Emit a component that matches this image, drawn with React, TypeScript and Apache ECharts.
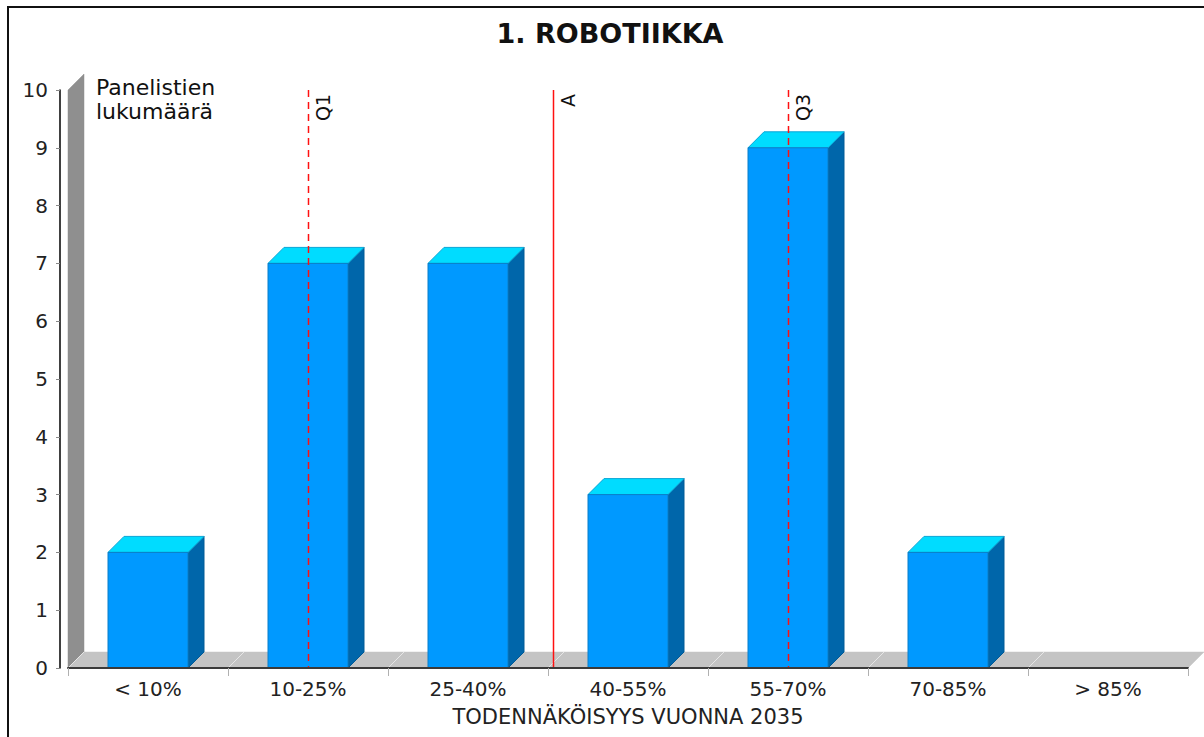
import React, { useEffect, useRef } from "react";
import * as echarts from "echarts";

const titleText = "1. ROBOTIIKKA";
const yAxisName = "Panelistien\nlukumäärä";
const xAxisName = "TODENNÄKÖISYYS VUONNA 2035";
const categories = ["< 10%", "10-25%", "25-40%", "40-55%", "55-70%", "70-85%", "> 85%"];
const counts = [2, 7, 7, 3, 9, 2, 0];
const yMin = 0;
const yMax = 10;
const yInterval = 1;
const markerNames = ["Q1", "A", "Q3"];
const markerPositions = [1, 2.53, 4]; // in category-index units
const markerDashed = [true, false, true];

const DEPTH = 16;
const FONT = "DejaVu Sans";

export default function App() {
  const ref = useRef<HTMLDivElement>(null);
  useEffect(() => {
    if (!ref.current) return;
    const chart = echarts.init(ref.current, null, { renderer: "svg" });
    const n = categories.length;
    const option: any = {
      animation: false,
      backgroundColor: "#ffffff",
      grid: { left: 68, right: 16, top: 90, bottom: 69 },
      xAxis: [
        {
          type: "category",
          data: categories,
          axisLine: { show: true, onZero: false, lineStyle: { color: "#3a3a3a", width: 2 } },
          axisTick: { show: true, length: 8, lineStyle: { color: "#b0b0b0" } },
          axisLabel: { fontSize: 20, color: "#222", margin: 11, fontFamily: FONT },
          splitLine: { show: false },
          name: xAxisName,
          nameLocation: "middle",
          nameGap: 38,
          nameTextStyle: { fontSize: 21, color: "#222", fontFamily: FONT, verticalAlign: "top" },
          z: 5,
        },
        {
          type: "value",
          min: -0.5,
          max: n - 0.5,
          show: false,
        },
      ],
      yAxis: {
        type: "value",
        min: yMin,
        max: yMax,
        interval: yInterval,
        offset: 8,
        axisLine: { show: true, onZero: false, lineStyle: { color: "#000", width: 1.5 } },
        axisTick: { show: true, length: 4, lineStyle: { color: "#888" } },
        axisLabel: { fontSize: 20, color: "#222", margin: 12, fontFamily: FONT },
        splitLine: { show: false },
      },
      graphic: [
        {
          type: "rect",
          shape: { x: 8, y: 7, width: 1300, height: 900 },
          style: { fill: "none", stroke: "#111", lineWidth: 2 },
          silent: true,
        },
        {
          type: "text",
          x: 610,
          y: 33,
          style: {
            text: titleText,
            font: `bold 27px ${FONT}`,
            fill: "#111",
            align: "center",
            verticalAlign: "middle",
          },
        },
        {
          type: "text",
          x: 96,
          y: 75,
          z: 10,
          style: {
            text: yAxisName,
            font: `22px ${FONT}`,
            lineHeight: 24,
            fill: "#111",
            align: "left",
            verticalAlign: "top",
          },
        },
      ],
      series: [
        {
          type: "custom",
          name: "frame",
          xAxisIndex: 1,
          z: 1,
          silent: true,
          data: [[0, 0]],
          renderItem: (params: any, api: any) => {
            const bl = api.coord([-0.5, yMin]);
            const br = api.coord([n - 0.5, yMin]);
            const tl = api.coord([-0.5, yMax]);
            const children: any[] = [
              {
                type: "polygon",
                shape: {
                  points: [
                    [bl[0], bl[1]],
                    [bl[0] + DEPTH, bl[1] - DEPTH],
                    [tl[0] + DEPTH, tl[1] - DEPTH],
                    [tl[0], tl[1]],
                  ],
                },
                style: { fill: "#8f8f8f", stroke: "#8f8f8f", lineWidth: 0.5 },
              },
              {
                type: "polygon",
                shape: {
                  points: [
                    [bl[0], bl[1]],
                    [br[0], br[1]],
                    [br[0] + DEPTH, br[1] - DEPTH],
                    [bl[0] + DEPTH, bl[1] - DEPTH],
                  ],
                },
                style: { fill: "#c4c4c4", stroke: "#c4c4c4", lineWidth: 0.5 },
              },
            ];
            for (let k = 0; k < n; k++) {
              const p = api.coord([k - 0.5, yMin]);
              children.push({
                type: "line",
                shape: { x1: p[0], y1: p[1], x2: p[0] + DEPTH, y2: p[1] - DEPTH },
                style: { stroke: "#e6e6e6", lineWidth: 1 },
              });
            }
            return { type: "group", children };
          },
        },
        {
          type: "custom",
          name: "Panelistien lukumäärä",
          xAxisIndex: 0,
          z: 2,
          data: counts.map((c, i) => [i, c]),
          renderItem: (params: any, api: any) => {
            const idx = api.value(0);
            const v = api.value(1);
            if (!(v > 0)) return null;
            const top = api.coord([idx, v]);
            const base = api.coord([idx, 0]);
            const w = api.size([1, 0])[0] * 0.5;
            const x0 = top[0] - w / 2;
            const x1 = top[0] + w / 2;
            const yt = top[1];
            const yb = base[1];
            return {
              type: "group",
              children: [
                {
                  type: "polygon",
                  shape: {
                    points: [
                      [x1, yb],
                      [x1 + DEPTH, yb - DEPTH],
                      [x1 + DEPTH, yt - DEPTH],
                      [x1, yt],
                    ],
                  },
                  style: { fill: "#0066aa", stroke: "#005a96", lineWidth: 1 },
                },
                {
                  type: "polygon",
                  shape: {
                    points: [
                      [x0, yt],
                      [x0 + DEPTH, yt - DEPTH],
                      [x1 + DEPTH, yt - DEPTH],
                      [x1, yt],
                    ],
                  },
                  style: { fill: "#00dcff", stroke: "#0aa6d6", lineWidth: 1 },
                },
                {
                  type: "rect",
                  shape: { x: x0, y: yt, width: w, height: yb - yt },
                  style: { fill: "#0099ff", stroke: "#0a7fc8", lineWidth: 1 },
                },
              ],
            };
          },
        },
        {
          type: "custom",
          name: "markers",
          xAxisIndex: 1,
          z: 3,
          silent: true,
          data: markerPositions.map((p, i) => ({ value: [p, yMax], name: markerNames[i] })),
          renderItem: (params: any, api: any) => {
            const i = params.dataIndex;
            const p = api.value(0);
            const top = api.coord([p, api.value(1)]);
            const bot = api.coord([p, yMin]);
            const x = Math.round(top[0]) + 0.5;
            return {
              type: "group",
              children: [
                {
                  type: "line",
                  shape: { x1: x, y1: top[1], x2: x, y2: bot[1] },
                  style: {
                    stroke: "#ff1010",
                    lineWidth: 1.5,
                    lineDash: markerDashed[i] ? [7, 5] : null,
                  },
                },
                {
                  type: "text",
                  x: x + 14,
                  y: top[1] + 4,
                  rotation: Math.PI / 2,
                  style: {
                    text: markerNames[i],
                    font: `19px ${FONT}`,
                    fill: "#111",
                    align: "right",
                    verticalAlign: "middle",
                  },
                },
              ],
            };
          },
        },
      ],
    };
    chart.setOption(option);
    return () => chart.dispose();
  }, []);
  return (
    <div
      ref={ref}
      style={{ position: "absolute", left: 0, top: 0, width: 1204, height: 737, background: "#fff" }}
    />
  );
}
